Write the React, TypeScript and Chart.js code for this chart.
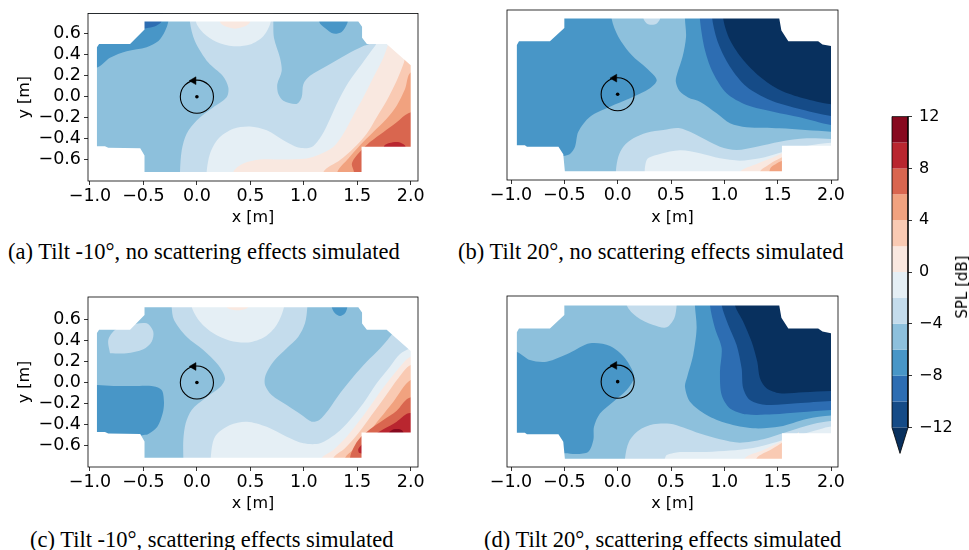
import React, { useEffect, useRef } from 'react';
import { Chart, registerables } from 'chart.js';
Chart.register(...registerables);

type P = [number, number];
type Layer = { band: number; pts: P[] };

// ---- axes / colour scale ----
const X_TICKS = [-1, -0.5, 0, 0.5, 1, 1.5, 2];
const Y_TICKS = [-0.6, -0.4, -0.2, 0, 0.2, 0.4, 0.6];
const CB_TICKS = [-12, -8, -4, 0, 4, 8, 12];
const LEVELS = [-12, -10, -8, -6, -4, -2, 0, 2, 4, 6, 8, 10, 12];
const UNDER = -14;
const UNDER_COLOR = '#08305e';
const BAND_COLORS = ['#154b87', '#2d6db2', '#4896c7', '#8dc0dc', '#c4dcec', '#e5eff5', '#f9e8e0', '#f9cab3', '#f1a27f', '#d9664f', '#b9262f', '#87091f'];

const CAPTIONS = [
  '(a) Tilt -10°, no scattering effects simulated',
  '(b) Tilt 20°, no scattering effects simulated',
  '(c) Tilt -10°, scattering effects simulated',
  '(d) Tilt 20°, scattering effects simulated',
];

// ---- measurement domain outlines ----
const DOMAIN_AC: P[] = [[-0.49, 0.715], [1.51, 0.715], [1.545, 0.665], [1.545, 0.56], [1.59, 0.5], [1.775, 0.5], [2.0, 0.3], [2.0, -0.475], [1.54, -0.475], [1.54, -0.715], [-0.49, -0.715], [-0.49, -0.56], [-0.53, -0.49], [-0.83, -0.485], [-0.86, -0.47], [-0.935, -0.47], [-0.935, 0.47], [-0.915, 0.5], [-0.625, 0.5], [-0.49, 0.64]];
const DOMAIN_BD: P[] = [[-0.5, 0.715], [1.515, 0.715], [1.535, 0.6], [1.6, 0.5], [1.88, 0.5], [1.92, 0.47], [2.0, 0.455], [2.0, -0.485], [1.54, -0.485], [1.54, -0.725], [-0.495, -0.725], [-0.51, -0.565], [-0.555, -0.495], [-0.85, -0.495], [-0.87, -0.48], [-0.945, -0.48], [-0.945, 0.465], [-0.925, 0.5], [-0.635, 0.5], [-0.5, 0.625]];
const FULL: P[] = [[-1.5, -1.2], [2.5, -1.2], [2.5, 1.2], [-1.5, 1.2], [-1.5, -1.2]];

// ---- panel (a) level regions ----
const A_S4_LEFT: P[] = [[-1.2, 0.9], [-0.065, 0.9], [-0.065, 0.71], [-0.018, 0.528], [0.107, 0.324], [0.241, 0.198], [0.294, 0.088], [0.278, -0.006], [0.154, -0.101], [-0.002, -0.226], [-0.096, -0.352], [-0.142, -0.509], [-0.158, -0.716], [-0.158, -0.9], [-1.2, -0.9]];
const A_S4_RIGHT: P[] = [[0.715, 0.9], [0.715, 0.71], [0.721, 0.559], [0.777, 0.371], [0.793, 0.245], [0.752, 0.119], [0.762, 0.025], [0.809, -0.038], [0.933, -0.069], [0.98, -0.006], [0.996, 0.119], [1.058, 0.198], [1.214, 0.292], [1.401, 0.402], [1.557, 0.481], [1.65, 0.53], [1.65, 0.9]];
const A_S6_LEFT: P[] = [[-1.2, 0.276], [-0.938, 0.276], [-0.813, 0.371], [-0.657, 0.433], [-0.47, 0.471], [-0.36, 0.53], [-0.3, 0.62], [-0.267, 0.72], [-0.267, 0.9], [-1.2, 0.9]];
const A_S6_TOP: P[] = [[1.145, 0.9], [1.145, 0.71], [1.198, 0.653], [1.276, 0.6], [1.354, 0.616], [1.401, 0.685], [1.41, 0.71], [1.41, 0.9]];
const A_S8_TOP: P[] = [[-0.55, 0.9], [-0.33, 0.9], [-0.33, 0.72], [-0.38, 0.675], [-0.45, 0.655], [-0.55, 0.655]];
const A_U2_TOP: P[] = [[-0.008, 0.9], [-0.008, 0.71], [0.06, 0.606], [0.185, 0.521], [0.341, 0.48], [0.497, 0.496], [0.621, 0.575], [0.69, 0.71], [0.69, 0.9]];
const A_U2_RIGHT: P[] = [[0.091, -0.9], [0.091, -0.716], [0.123, -0.54], [0.2, -0.399], [0.341, -0.305], [0.497, -0.283], [0.653, -0.32], [0.809, -0.415], [0.949, -0.484], [1.074, -0.478], [1.167, -0.368], [1.245, -0.211], [1.323, -0.038], [1.417, 0.135], [1.541, 0.308], [1.666, 0.481], [1.713, 0.543], [2.2, 0.6], [2.2, -0.9]];
const A_U0_TOP: P[] = [[0.216, 0.9], [0.216, 0.71], [0.263, 0.669], [0.356, 0.647], [0.45, 0.669], [0.497, 0.71], [0.497, 0.9]];
const A_U0_RIGHT: P[] = [[0.341, -0.9], [0.341, -0.716], [0.434, -0.635], [0.59, -0.597], [0.809, -0.597], [1.027, -0.588], [1.152, -0.547], [1.276, -0.478], [1.37, -0.352], [1.463, -0.179], [1.557, -0.006], [1.65, 0.182], [1.744, 0.371], [1.791, 0.503], [1.82, 0.59], [2.2, 0.6], [2.2, -0.9]];
const A_U2P: P[] = [[1.183, -0.9], [1.183, -0.716], [1.339, -0.603], [1.463, -0.493], [1.588, -0.352], [1.682, -0.195], [1.775, -0.038], [1.869, 0.151], [1.937, 0.324], [1.96, 0.4], [2.2, 0.4], [2.2, -0.9]];
const A_U4P: P[] = [[1.314, -0.9], [1.314, -0.716], [1.417, -0.588], [1.526, -0.462], [1.65, -0.336], [1.775, -0.21], [1.869, -0.085], [1.947, 0.072], [2.0, 0.229], [2.2, 0.23], [2.2, -0.9]];
const A_U6P: P[] = [[1.47, -0.9], [1.47, -0.72], [1.45, -0.635], [1.51, -0.541], [1.619, -0.431], [1.744, -0.337], [1.869, -0.243], [1.978, -0.158], [2.2, -0.1], [2.2, -0.9]];
const A_U8P: P[] = [[1.75, -0.55], [1.75, -0.47], [1.8, -0.44], [1.88, -0.43], [1.93, -0.45], [1.95, -0.47], [1.95, -0.55]];

// ---- panel (b) level regions ----
const B_S6_LEFT: P[] = [[-1.2, 0.9], [-0.056, 0.9], [-0.056, 0.709], [0.006, 0.543], [0.131, 0.37], [0.272, 0.244], [0.366, 0.134], [0.303, 0.056], [0.116, -0.038], [-0.072, -0.117], [-0.259, -0.211], [-0.369, -0.353], [-0.4, -0.494], [-0.447, -0.563], [-0.509, -0.582], [-0.6, -0.59], [-1.2, -0.59]];
const B_S6_RIGHT: P[] = [[0.631, 0.9], [0.631, 0.709], [0.641, 0.543], [0.609, 0.355], [0.559, 0.197], [0.545, 0.12], [0.58, 0.03], [0.66, -0.03], [0.771, -0.07], [0.928, -0.18], [1.053, -0.274], [1.209, -0.311], [1.521, -0.321], [2.0, -0.353], [2.2, -0.36], [2.2, 0.9]];
const B_S8: P[] = [[0.771, 0.9], [0.771, 0.709], [0.818, 0.417], [0.896, 0.197], [1.021, 0.009], [1.209, -0.101], [1.458, -0.164], [1.708, -0.217], [2.0, -0.29], [2.2, -0.3], [2.2, 0.9]];
const B_S10: P[] = [[0.887, 0.9], [0.887, 0.709], [0.943, 0.48], [1.053, 0.26], [1.209, 0.071], [1.427, -0.054], [1.678, -0.132], [2.0, -0.205], [2.2, -0.21], [2.2, 0.9]];
const B_S12: P[] = [[0.99, 0.9], [0.99, 0.709], [1.053, 0.511], [1.177, 0.323], [1.334, 0.166], [1.521, 0.04], [1.74, -0.038], [2.0, -0.095], [2.2, -0.1], [2.2, 0.9]];
const B_U4_BOT: P[] = [[-0.016, -0.9], [-0.016, -0.716], [0.006, -0.588], [0.053, -0.494], [0.147, -0.415], [0.272, -0.362], [0.428, -0.337], [0.584, -0.321], [0.771, -0.4], [0.959, -0.494], [1.115, -0.525], [1.303, -0.494], [1.521, -0.447], [1.771, -0.415], [2.0, -0.422], [2.2, -0.43], [2.2, -0.9]];
const B_U4_TOP: P[] = [[0.24, 0.9], [0.24, 0.72], [0.27, 0.67], [0.32, 0.655], [0.37, 0.67], [0.4, 0.72], [0.4, 0.9]];
const B_U2: P[] = [[0.25, -0.9], [0.272, -0.62], [0.397, -0.563], [0.584, -0.528], [0.771, -0.557], [0.959, -0.604], [1.146, -0.626], [1.334, -0.604], [1.521, -0.551], [1.771, -0.488], [2.0, -0.457], [2.2, -0.457], [2.2, -0.9]];
const B_U0: P[] = [[1.1, -0.9], [1.146, -0.73], [1.303, -0.657], [1.458, -0.594], [1.615, -0.525], [1.7, -0.5], [1.7, -0.9]];
const B_U2P: P[] = [[1.31, -0.9], [1.334, -0.73], [1.412, -0.667], [1.49, -0.62], [1.6, -0.58], [1.6, -0.9]];
const B_U4P: P[] = [[1.4, -0.9], [1.43, -0.7], [1.48, -0.66], [1.54, -0.63], [1.6, -0.63], [1.6, -0.9]];

// ---- panel (c) level regions ----
const C_U4_BIG: P[] = [[-0.236, 0.9], [-0.236, 0.72], [-0.214, 0.594], [-0.096, 0.435], [0.06, 0.309], [0.2, 0.166], [0.263, 0.04], [0.216, -0.046], [0.076, -0.15], [-0.049, -0.261], [-0.105, -0.388], [-0.127, -0.546], [-0.127, -0.72], [-0.127, -0.9], [2.2, -0.9], [2.2, 0.9]];
const C_U4_BLOB: P[] = [[-0.813, 0.277], [-0.829, 0.404], [-0.766, 0.499], [-0.626, 0.546], [-0.47, 0.562], [-0.408, 0.483], [-0.423, 0.388], [-0.501, 0.315], [-0.657, 0.277], [-0.813, 0.277]];
const C_S4_RIGHT: P[] = [[1.033, 0.9], [1.033, 0.72], [1.011, 0.562], [0.949, 0.435], [0.84, 0.325], [0.715, 0.198], [0.643, 0.071], [0.637, -0.024], [0.699, -0.119], [0.84, -0.214], [0.98, -0.309], [1.074, -0.372], [1.145, -0.356], [1.23, -0.261], [1.339, -0.103], [1.463, 0.055], [1.588, 0.198], [1.713, 0.324], [1.806, 0.435], [1.869, 0.53], [1.9, 0.9]];
const C_S6_LEFT: P[] = [[-1.2, -0.024], [-0.931, -0.024], [-0.782, -0.033], [-0.595, -0.033], [-0.423, -0.033], [-0.33, -0.071], [-0.308, -0.182], [-0.32, -0.293], [-0.37, -0.42], [-0.454, -0.489], [-0.532, -0.515], [-0.6, -0.9], [-1.2, -0.9]];
const C_S6_TOP: P[] = [[1.261, 0.9], [1.261, 0.72], [1.292, 0.657], [1.339, 0.632], [1.385, 0.657], [1.407, 0.72], [1.407, 0.9]];
const C_U2_TOP: P[] = [[-0.049, 0.9], [-0.049, 0.72], [0.029, 0.578], [0.154, 0.467], [0.31, 0.397], [0.481, 0.381], [0.637, 0.435], [0.746, 0.546], [0.815, 0.72], [0.815, 0.9]];
const C_U2_RIGHT: P[] = [[0.129, -0.9], [0.129, -0.72], [0.169, -0.515], [0.31, -0.404], [0.466, -0.372], [0.653, -0.42], [0.84, -0.515], [0.996, -0.578], [1.152, -0.578], [1.307, -0.483], [1.432, -0.356], [1.557, -0.198], [1.682, -0.008], [1.806, 0.15], [1.9, 0.271], [2.0, 0.324], [2.2, 0.33], [2.2, -0.9]];
const C_U0_TOP: P[] = [[0.278, 0.9], [0.278, 0.72], [0.341, 0.689], [0.419, 0.689], [0.481, 0.72], [0.481, 0.9]];
const C_U0_RIGHT: P[] = [[1.167, -0.9], [1.167, -0.72], [1.276, -0.641], [1.401, -0.515], [1.526, -0.356], [1.65, -0.182], [1.775, -0.008], [1.9, 0.15], [2.0, 0.245], [2.2, 0.25], [2.2, -0.9]];
const C_U2P: P[] = [[1.276, -0.9], [1.276, -0.72], [1.385, -0.625], [1.51, -0.483], [1.635, -0.309], [1.76, -0.135], [1.884, 0.04], [2.0, 0.166], [2.2, 0.17], [2.2, -0.9]];
const C_U4P: P[] = [[1.385, -0.9], [1.385, -0.72], [1.479, -0.625], [1.588, -0.499], [1.713, -0.34], [1.838, -0.182], [2.0, 0.024], [2.2, 0.03], [2.2, -0.9]];
const C_U6P: P[] = [[1.42, -0.9], [1.432, -0.72], [1.448, -0.657], [1.51, -0.546], [1.619, -0.445], [1.744, -0.356], [1.869, -0.268], [1.978, -0.15], [2.2, -0.1], [2.2, -0.9]];
const C_U8P: P[] = [[2.2, -0.29], [1.978, -0.293], [1.869, -0.372], [1.744, -0.445], [1.635, -0.515], [1.557, -0.578], [1.51, -0.632], [1.52, -0.67], [1.6, -0.67], [2.2, -0.67]];
const C_U10P: P[] = [[1.8, -0.47], [1.84, -0.445], [1.9, -0.445], [1.93, -0.47], [1.93, -0.52], [1.8, -0.52]];

// ---- panel (d) level regions ----
const D_S6_LEFT: P[] = [[-1.2, 0.282], [-0.953, 0.282], [-0.822, 0.203], [-0.666, 0.188], [-0.447, 0.272], [-0.259, 0.36], [-0.072, 0.335], [0.069, 0.219], [0.153, 0.047], [0.084, -0.078], [-0.041, -0.188], [-0.166, -0.298], [-0.222, -0.423], [-0.228, -0.548], [-0.275, -0.658], [-0.384, -0.68], [-0.494, -0.673], [-0.6, -0.68], [-0.6, -0.9], [-1.2, -0.9]];
const D_S6_RIGHT: P[] = [[0.724, 0.9], [0.724, 0.72], [0.74, 0.501], [0.708, 0.251], [0.652, 0.047], [0.631, -0.047], [0.678, -0.188], [0.834, -0.313], [1.021, -0.391], [1.271, -0.438], [1.521, -0.422], [1.771, -0.35], [2.0, -0.319], [2.2, -0.32], [2.2, 0.9]];
const D_S8: P[] = [[0.865, 0.9], [0.865, 0.72], [0.912, 0.501], [0.975, 0.313], [0.959, 0.093], [0.975, -0.126], [1.053, -0.251], [1.209, -0.307], [1.458, -0.307], [1.709, -0.288], [2.0, -0.266], [2.2, -0.27], [2.2, 0.9]];
const D_S10: P[] = [[0.975, 0.9], [0.975, 0.72], [1.037, 0.532], [1.115, 0.344], [1.162, 0.125], [1.177, -0.063], [1.24, -0.172], [1.396, -0.219], [1.678, -0.203], [2.0, -0.181], [2.2, -0.18], [2.2, 0.9]];
const D_S12: P[] = [[1.099, 0.9], [1.099, 0.72], [1.177, 0.563], [1.256, 0.375], [1.309, 0.187], [1.334, 0.031], [1.396, -0.063], [1.521, -0.11], [1.74, -0.1], [2.0, -0.088], [2.2, -0.09], [2.2, 0.9]];
const D_U4_BOT: P[] = [[0.069, -0.9], [0.069, -0.72], [0.106, -0.564], [0.194, -0.46], [0.334, -0.401], [0.49, -0.395], [0.616, -0.43], [0.771, -0.488], [0.959, -0.541], [1.146, -0.573], [1.365, -0.541], [1.584, -0.472], [1.833, -0.397], [2.0, -0.369], [2.2, -0.37], [2.2, -0.9]];
const D_U4_TOP: P[] = [[0.08, 0.9], [0.084, 0.72], [0.178, 0.61], [0.334, 0.532], [0.459, 0.51], [0.531, 0.595], [0.553, 0.72], [0.56, 0.9]];
const D_U2: P[] = [[0.43, -0.9], [0.45, -0.7], [0.55, -0.665], [0.584, -0.66], [0.834, -0.66], [1.053, -0.647], [1.271, -0.622], [1.49, -0.566], [1.678, -0.51], [1.896, -0.447], [2.0, -0.422], [2.2, -0.42], [2.2, -0.9]];
const D_U0: P[] = [[1.15, -0.9], [1.193, -0.72], [1.365, -0.642], [1.521, -0.566], [1.662, -0.503], [1.7, -0.48], [1.7, -0.9]];
const D_U2P: P[] = [[1.28, -0.9], [1.303, -0.72], [1.443, -0.635], [1.552, -0.566], [1.6, -0.54], [1.6, -0.9]];

// ---- layer stacks (bottom first), band = lower bound of the colour band ----
const A_LAYERS: Layer[] = [
  { band: -4, pts: FULL }, { band: -6, pts: A_S4_LEFT }, { band: -6, pts: A_S4_RIGHT },
  { band: -8, pts: A_S6_LEFT }, { band: -8, pts: A_S6_TOP }, { band: -10, pts: A_S8_TOP },
  { band: -2, pts: A_U2_TOP }, { band: -2, pts: A_U2_RIGHT }, { band: 0, pts: A_U0_TOP }, { band: 0, pts: A_U0_RIGHT },
  { band: 2, pts: A_U2P }, { band: 4, pts: A_U4P }, { band: 6, pts: A_U6P }, { band: 8, pts: A_U8P },
];
const B_LAYERS: Layer[] = [
  { band: -6, pts: FULL }, { band: -8, pts: B_S6_LEFT }, { band: -8, pts: B_S6_RIGHT },
  { band: -10, pts: B_S8 }, { band: -12, pts: B_S10 }, { band: UNDER, pts: B_S12 },
  { band: -4, pts: B_U4_BOT }, { band: -4, pts: B_U4_TOP }, { band: -2, pts: B_U2 },
  { band: 0, pts: B_U0 }, { band: 2, pts: B_U2P }, { band: 4, pts: B_U4P },
];
const C_LAYERS: Layer[] = [
  { band: -6, pts: FULL }, { band: -4, pts: C_U4_BIG }, { band: -4, pts: C_U4_BLOB }, { band: -6, pts: C_S4_RIGHT },
  { band: -8, pts: C_S6_LEFT }, { band: -8, pts: C_S6_TOP },
  { band: -2, pts: C_U2_TOP }, { band: -2, pts: C_U2_RIGHT }, { band: 0, pts: C_U0_TOP }, { band: 0, pts: C_U0_RIGHT },
  { band: 2, pts: C_U2P }, { band: 4, pts: C_U4P }, { band: 6, pts: C_U6P }, { band: 8, pts: C_U8P }, { band: 10, pts: C_U10P },
];
const D_LAYERS: Layer[] = [
  { band: -6, pts: FULL }, { band: -8, pts: D_S6_LEFT }, { band: -8, pts: D_S6_RIGHT },
  { band: -10, pts: D_S8 }, { band: -12, pts: D_S10 }, { band: UNDER, pts: D_S12 },
  { band: -4, pts: D_U4_BOT }, { band: -4, pts: D_U4_TOP }, { band: -2, pts: D_U2 },
  { band: 0, pts: D_U0 }, { band: 2, pts: D_U2P },
];

const SOURCE_POS = { x: 0, y: 0 };
const SOURCE_RADIUS = 0.155;
const ARROW_POS = { x: -0.03, y: 0.152 };

const FONT = "'DejaVu Sans', sans-serif";
const TICK_SIZE = 17.5;
const TITLE_SIZE = 16;

const bandColor = (lo: number) => (lo < LEVELS[0] ? UNDER_COLOR : BAND_COLORS[(lo - LEVELS[0]) / 2]);
const fmt1 = (v: number) => v.toFixed(1).replace('-', '\u2212');
const fmt0 = (v: number) => String(v).replace('-', '\u2212');

function closed(pts: P[]): P[] {
  const f = pts[0], l = pts[pts.length - 1];
  return f[0] === l[0] && f[1] === l[1] ? pts : [...pts, f];
}

function maskPath(domain: P[]): P[] {
  const p0 = domain[0];
  return [[p0[0], 1.5], [-1.6, 1.5], [-1.6, -1.5], [2.6, -1.5], [2.6, 1.5], [p0[0], 1.5], ...domain, p0, [p0[0], 1.5]];
}

function polyDs(pts: P[], color: string, tension = 0.3) {
  return {
    data: closed(pts).map(([x, y]) => ({ x, y })),
    showLine: true,
    fill: 'shape',
    backgroundColor: color,
    borderColor: 'rgba(0,0,0,0)',
    borderWidth: 0,
    pointRadius: 0,
    pointHoverRadius: 0,
    tension,
  };
}

const framePlugin = {
  id: 'frame',
  afterDraw(chart: any) {
    const { ctx, chartArea } = chart;
    ctx.save();
    ctx.strokeStyle = '#000';
    ctx.lineWidth = 0.8;
    ctx.strokeRect(chartArea.left, chartArea.top, chartArea.right - chartArea.left, chartArea.bottom - chartArea.top);
    ctx.restore();
  },
};

type PanelProps = {
  left: number; top: number; width: number; height: number;
  pad: { left: number; top: number; right: number; bottom: number };
  showY: boolean; yAxisW: number; xAxisH: number;
  xr: [number, number]; yr: [number, number];
  layers: Layer[]; domain: P[];
};

function Panel(p: PanelProps) {
  const ref = useRef<HTMLCanvasElement>(null);
  useEffect(() => {
    const polys = p.layers.map((l) => polyDs(l.pts, bandColor(l.band)));
    const mask = polyDs(maskPath(p.domain), '#ffffff', 0);
    const markers: any[] = [
      { data: [ARROW_POS], pointStyle: 'triangle', rotation: -90, pointRadius: 4.5, backgroundColor: '#000', borderColor: '#000', borderWidth: 0.5 },
      { data: [SOURCE_POS], pointStyle: 'circle', pointRadius: 1.8, backgroundColor: '#000', borderColor: '#000', borderWidth: 0 },
      {
        data: [SOURCE_POS], pointStyle: 'circle', backgroundColor: 'rgba(0,0,0,0)', borderColor: '#000', borderWidth: 1.1,
        pointRadius: (c: any) => { const s = c.chart.scales.x; return Math.abs(s.getPixelForValue(SOURCE_RADIUS) - s.getPixelForValue(0)); },
      },
    ];
    const datasets = [...markers, mask, ...polys.reverse()];
    const tickFont = { family: FONT, size: TICK_SIZE };
    const titleFont = { family: FONT, size: TITLE_SIZE };
    const chart = new Chart(ref.current as HTMLCanvasElement, {
      type: 'scatter',
      data: { datasets } as any,
      options: {
        animation: false,
        responsive: false,
        devicePixelRatio: 1,
        events: [],
        layout: { padding: p.pad },
        elements: { line: { capBezierPoints: false } as any },
        plugins: { legend: { display: false }, tooltip: { enabled: false } },
        scales: {
          x: {
            type: 'linear', min: p.xr[0], max: p.xr[1],
            afterBuildTicks: (s: any) => { s.ticks = X_TICKS.map((v) => ({ value: v })); },
            afterFit: (s: any) => { s.height = p.xAxisH; },
            ticks: { callback: (v: any) => fmt1(Number(v)), font: tickFont, color: '#000', padding: 1, autoSkip: false, maxRotation: 0 },
            grid: { drawOnChartArea: false, drawTicks: true, tickLength: 4, color: '#000', lineWidth: 0.8 },
            border: { display: false },
            title: { display: true, text: 'x [m]', font: titleFont, color: '#000', padding: { top: 4, bottom: 2 } },
          },
          y: p.showY
            ? {
                type: 'linear', min: p.yr[0], max: p.yr[1],
                afterBuildTicks: (s: any) => { s.ticks = Y_TICKS.map((v) => ({ value: v })); },
                afterFit: (s: any) => { s.width = p.yAxisW; },
                ticks: { callback: (v: any) => fmt1(Number(v)), font: tickFont, color: '#000', padding: 3, autoSkip: false },
                grid: { drawOnChartArea: false, drawTicks: true, tickLength: 4, color: '#000', lineWidth: 0.8 },
                border: { display: false },
                title: { display: true, text: 'y [m]', font: titleFont, color: '#000', padding: { top: 2, bottom: 4 } },
              }
            : { type: 'linear', min: p.yr[0], max: p.yr[1], display: false },
        },
      } as any,
      plugins: [framePlugin],
    });
    return () => chart.destroy();
  }, []);
  return <canvas ref={ref} width={p.width} height={p.height} style={{ position: 'absolute', left: p.left, top: p.top, width: p.width, height: p.height }} />;
}

function ColorBar() {
  const ref = useRef<HTMLCanvasElement>(null);
  useEffect(() => {
    const bins = LEVELS.slice(0, -1).map((lo, i) => polyDs([[0, lo], [1, lo], [1, LEVELS[i + 1]], [0, LEVELS[i + 1]]], BAND_COLORS[i], 0));
    const tri = polyDs([[0, LEVELS[0]], [1, LEVELS[0]], [0.5, UNDER], [0, LEVELS[0]]], UNDER_COLOR, 0);
    const top = LEVELS[LEVELS.length - 1];
    const outline: any = {
      data: [[0, top], [1, top], [1, LEVELS[0]], [0.5, UNDER], [0, LEVELS[0]], [0, top]].map(([x, y]) => ({ x, y })),
      showLine: true, fill: false, borderColor: '#000', borderWidth: 0.8, pointRadius: 0, tension: 0, clip: false,
    };
    const chart = new Chart(ref.current as HTMLCanvasElement, {
      type: 'scatter',
      data: { datasets: [outline, tri, ...bins.reverse()] } as any,
      options: {
        animation: false, responsive: false, devicePixelRatio: 1, events: [],
        layout: { padding: { left: 32, top: 14, right: 0, bottom: 16 } },
        plugins: { legend: { display: false }, tooltip: { enabled: false } },
        scales: {
          x: { type: 'linear', min: 0, max: 1, display: false },
          y: {
            type: 'linear', position: 'right', min: UNDER, max: top,
            afterBuildTicks: (s: any) => { s.ticks = CB_TICKS.map((v) => ({ value: v })); },
            afterFit: (s: any) => { s.width = 61; },
            ticks: { callback: (v: any) => fmt0(Number(v)), font: { family: FONT, size: 16 }, color: '#000', padding: 7, autoSkip: false },
            grid: { drawOnChartArea: false, drawTicks: true, tickLength: 4, color: '#000', lineWidth: 0.8 },
            border: { display: false },
          },
        },
      } as any,
    });
    return () => chart.destroy();
  }, []);
  return <canvas ref={ref} width={109} height={370} style={{ position: 'absolute', left: 860, top: 100, width: 109, height: 370 }} />;
}

const captionStyle = (left: number, top: number): React.CSSProperties => ({
  position: 'absolute', left, top, fontFamily: "'Liberation Serif', 'Times New Roman', serif", fontSize: 22.5,
  lineHeight: '22.5px', whiteSpace: 'nowrap', color: '#000',
});

export default function App() {
  return (
    <div style={{ position: 'absolute', left: 0, top: 0, width: 969, height: 550, background: '#fff', overflow: 'hidden' }}>
      <Panel left={0} top={0} width={430} height={230} pad={{ left: 13, top: 12, right: 12, bottom: 1 }} showY yAxisW={75} xAxisH={48}
        xr={[-1.0187, 2.0683]} yr={[-0.8015, 0.791]} layers={A_LAYERS} domain={DOMAIN_AC} />
      <Panel left={430} top={0} width={430} height={230} pad={{ left: 77, top: 10, right: 22, bottom: 1 }} showY={false} yAxisW={0} xAxisH={49}
        xr={[-1.0375, 2.0656]} yr={[-0.808, 0.794]} layers={B_LAYERS} domain={DOMAIN_BD} />
      <Panel left={0} top={280} width={430} height={236} pad={{ left: 13, top: 17, right: 12, bottom: 1 }} showY yAxisW={75} xAxisH={48}
        xr={[-1.0187, 2.0683]} yr={[-0.8026, 0.812]} layers={C_LAYERS} domain={DOMAIN_AC} />
      <Panel left={430} top={280} width={430} height={236} pad={{ left: 77, top: 16, right: 22, bottom: 1 }} showY={false} yAxisW={0} xAxisH={48}
        xr={[-1.0375, 2.0656]} yr={[-0.8016, 0.8045]} layers={D_LAYERS} domain={DOMAIN_BD} />
      <ColorBar />
      <div style={{ position: 'absolute', left: 962, top: 287, transform: 'translate(-50%, -50%) rotate(-90deg)', fontFamily: FONT, fontSize: 15, whiteSpace: 'nowrap', color: '#000' }}>SPL [dB]</div>
      <div style={captionStyle(8, 241)}>{CAPTIONS[0]}</div>
      <div style={captionStyle(458, 241)}>{CAPTIONS[1]}</div>
      <div style={captionStyle(30, 529)}>{CAPTIONS[2]}</div>
      <div style={captionStyle(484, 529)}>{CAPTIONS[3]}</div>
    </div>
  );
}
